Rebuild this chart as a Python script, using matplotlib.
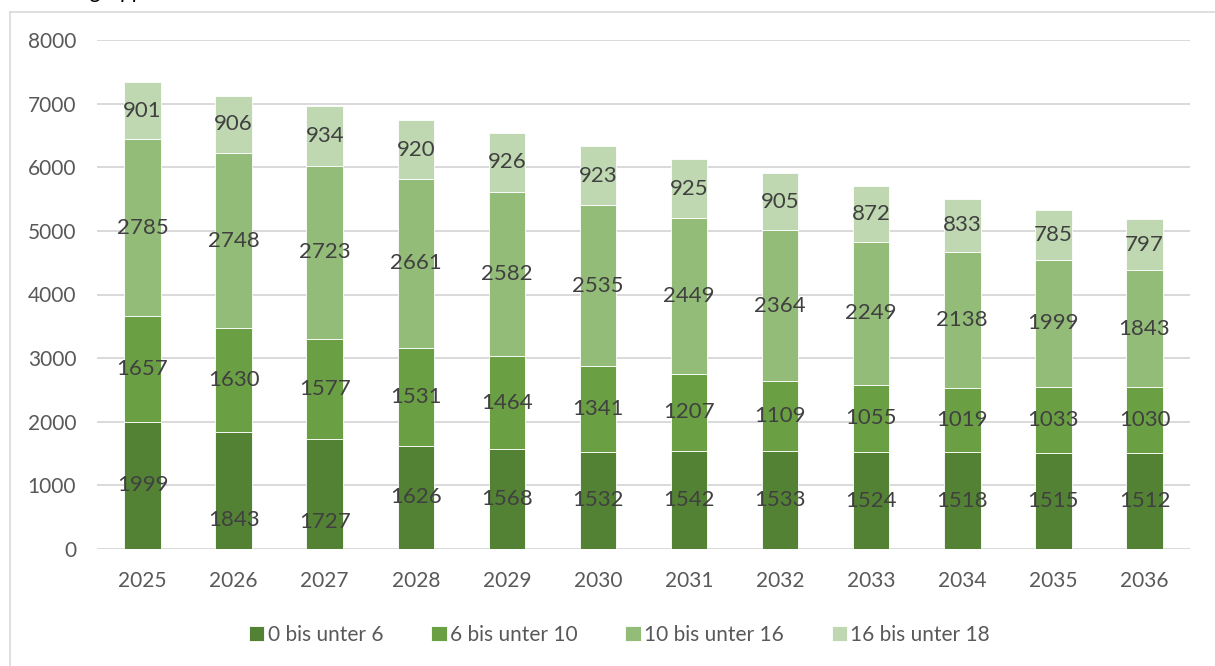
import matplotlib
matplotlib.use("Agg")
import matplotlib.pyplot as plt
from matplotlib.lines import Line2D
import numpy as np

years = ["2025", "2026", "2027", "2028", "2029", "2030", "2031", "2032", "2033", "2034", "2035", "2036"]
series_names = ["0 bis unter 6", "6 bis unter 10", "10 bis unter 16", "16 bis unter 18"]
age_0_6 = [1999, 1843, 1727, 1626, 1568, 1532, 1542, 1533, 1524, 1518, 1515, 1512]
age_6_10 = [1657, 1630, 1577, 1531, 1464, 1341, 1207, 1109, 1055, 1019, 1033, 1030]
age_10_16 = [2785, 2748, 2723, 2661, 2582, 2535, 2449, 2364, 2249, 2138, 1999, 1843]
age_16_18 = [901, 906, 934, 920, 926, 923, 925, 905, 872, 833, 785, 797]
yticks = [0, 1000, 2000, 3000, 4000, 5000, 6000, 7000, 8000]

colors = ["#548235", "#6AA043", "#93BC78", "#BFD8B1"]
# manual label nudges (data units) seen in the reference for a few bottom labels
label_nudge = {(0, 1): -470, (0, 2): -440}

plt.rcParams["font.family"] = ["Lato", "DejaVu Sans"]

fig = plt.figure(figsize=(12.15, 6.66), dpi=100)
ax = fig.add_axes([97 / 1215, 117 / 666, 1093 / 1215, 509 / 666])

x = np.arange(len(years))
series = [age_0_6, age_6_10, age_10_16, age_16_18]
bottom = np.zeros(len(years))
for si, (vals, col, name) in enumerate(zip(series, colors, series_names)):
    vals = np.array(vals, dtype=float)
    ax.bar(x, vals, 0.4, bottom=bottom, color=col, edgecolor="white",
           linewidth=0.6, label=name, zorder=3)
    for i, v in enumerate(vals):
        yc = bottom[i] + v / 2 + label_nudge.get((si, i), 0)
        ax.text(x[i], yc, f"{int(v)}", ha="center", va="center",
                fontsize=16, color="#404040", zorder=4)
    bottom += vals

ax.set_xlim(-0.5, len(years) - 0.5)
ax.set_ylim(0, 8000)
ax.set_yticks(yticks)
ax.set_yticklabels([str(t) for t in yticks])
ax.set_xticks(x)
ax.set_xticklabels(years)
ax.grid(axis="y", color="#D9D9D9", linewidth=1.4, zorder=0)
ax.set_axisbelow(True)
for s in ax.spines.values():
    s.set_visible(False)
ax.tick_params(axis="both", length=0, labelsize=15, colors="#595959")
ax.tick_params(axis="y", pad=15)
ax.tick_params(axis="x", pad=16)

leg = ax.legend(loc="upper center", bbox_to_anchor=(0.478, -0.112), ncol=4,
                frameon=False, fontsize=15, handlelength=0.75, handleheight=0.75,
                handletextpad=0.15, columnspacing=2.3, labelcolor="#595959")

# chart frame (partially outside the image)
fig.add_artist(Line2D([10 / 1215, 10 / 1215], [0, 1 - 12 / 666], color="#D9D9D9",
                      linewidth=1.2, transform=fig.transFigure))
fig.add_artist(Line2D([10 / 1215, 1], [1 - 12 / 666, 1 - 12 / 666], color="#D9D9D9",
                      linewidth=1.2, transform=fig.transFigure))
# cut-off title above the frame (only descenders visible, as in the reference)
fig.text(38 / 1215, 1 + 2 / 666, "Altersgruppen", fontsize=16, style="italic",
         color="#000000", va="baseline", ha="left")

fig.savefig("out.png", dpi=100, facecolor="white")
